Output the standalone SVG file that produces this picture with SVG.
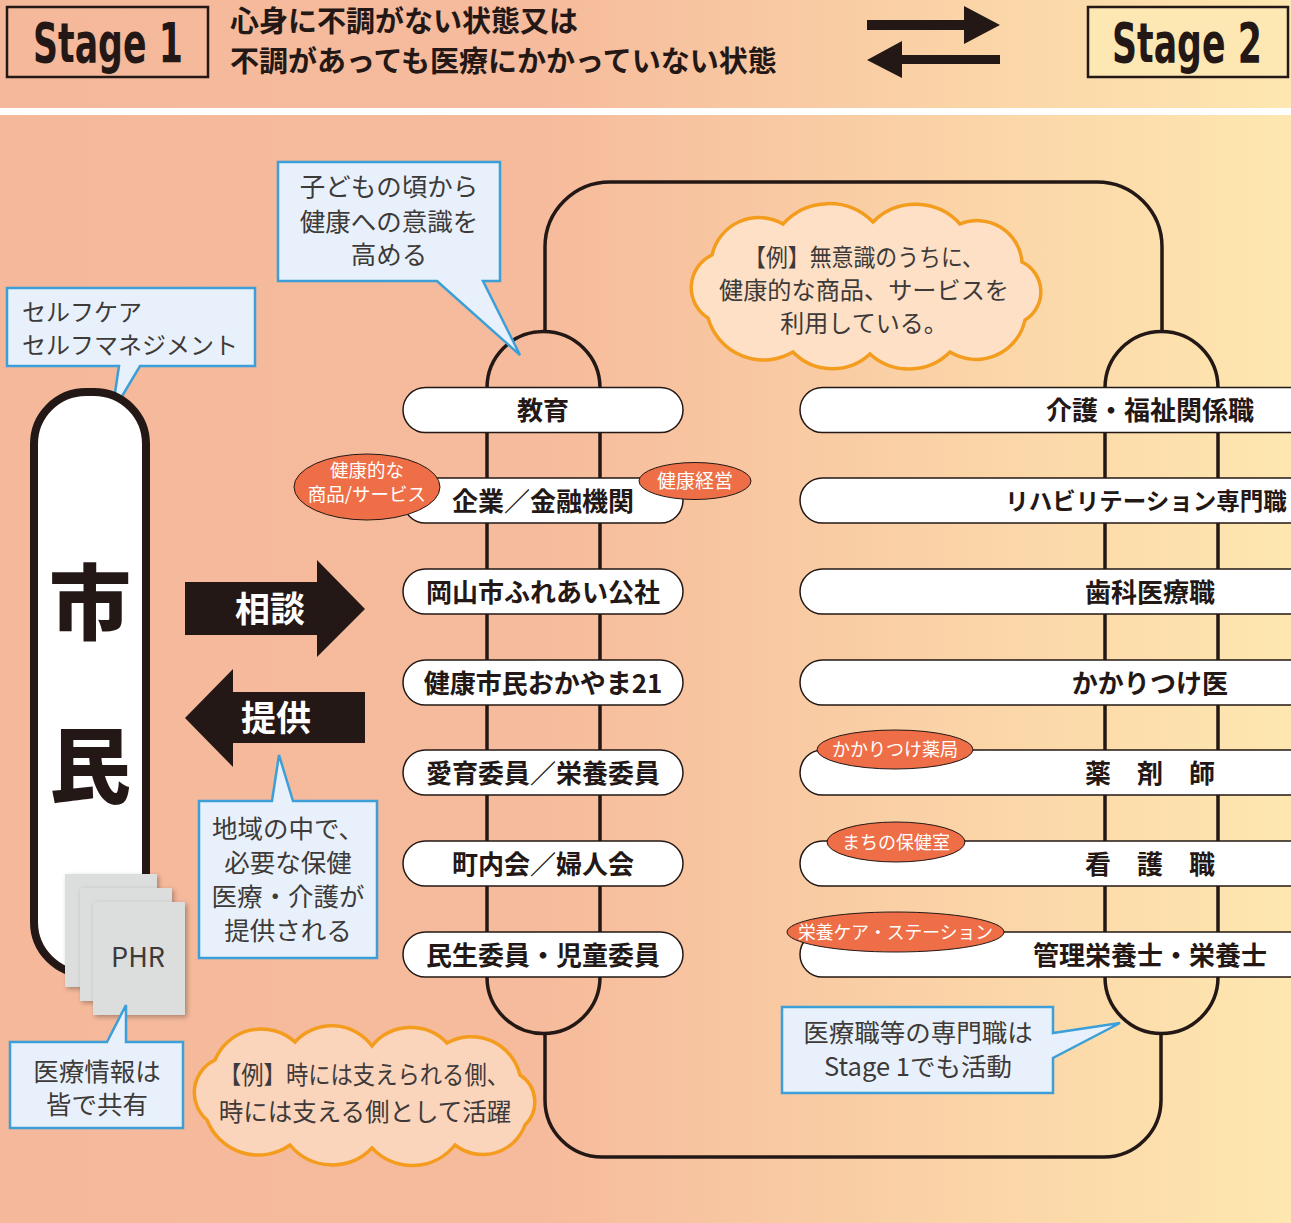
<svg xmlns="http://www.w3.org/2000/svg" width="1291" height="1223" viewBox="0 0 1291 1223">
<defs>
<linearGradient id="bg" x1="0" y1="0" x2="1291" y2="0" gradientUnits="userSpaceOnUse">
<stop offset="0" stop-color="#f5b89b"/>
<stop offset="0.42" stop-color="#f6bb9c"/>
<stop offset="1" stop-color="#fee7b0"/>
</linearGradient>
<filter id="sh" x="-20%" y="-20%" width="150%" height="150%">
<feDropShadow dx="2" dy="2" stdDeviation="2.5" flood-color="#000" flood-opacity="0.3"/>
</filter>
<style>
text{font-family:"Noto Sans CJK JP","Noto Sans",sans-serif}
.bub{fill:#e8f1fb;stroke:#3c9fd8;stroke-width:2.5}
.bt{font-size:25.5px;fill:#3e3a39;text-anchor:middle}
.pill{fill:#fff;stroke:#231815;stroke-width:1.5}
.pt{font-size:26px;font-weight:700;fill:#231815;text-anchor:middle}
.badge{fill:#ee6f47;stroke:#231815;stroke-width:1}
.bdt{font-size:19px;fill:#fff;text-anchor:middle}
.cloud{stroke:#f39c1e;stroke-width:3.5}
.line{fill:none;stroke:#231815;stroke-width:3.5}
.stg{font-family:"DejaVu Sans Condensed","DejaVu Sans",sans-serif;font-weight:700;font-size:56px;fill:#231815}
.blk{fill:#231815}
.phr{fill:#dcdddd}
</style>
</defs>
<rect x="0" y="0" width="1291" height="1223" fill="url(#bg)"/>
<rect x="0" y="108" width="1291" height="7" fill="#ffffff"/>

<g id="header">
<g id="stage1">
<rect x="7" y="7" width="201" height="70" fill="none" stroke="#231815" stroke-width="2.5"/>
<text class="stg" transform="translate(33,62) scale(0.69,1)" x="0" y="0">Stage 1</text>
</g>
<g id="stage1-desc">
<text x="230" y="32" font-size="29" font-weight="700" fill="#231815">心身に不調がない状態又は</text>
<text x="230" y="72" font-size="29" font-weight="700" fill="#231815">不調があっても医療にかかっていない状態</text>
</g>
<g id="stage-arrows">
<polygon class="blk" points="867,20 964,20 964,6 1000,25 964,44 964,30 867,30"/>
<polygon class="blk" points="867,60 902,41 902,55 1000,55 1000,64 902,64 902,78"/>
</g>
<g id="stage2">
<rect x="1088" y="7" width="200" height="70" fill="#fde8b3" stroke="#231815" stroke-width="2.5"/>
<text class="stg" transform="translate(1112,62) scale(0.69,1)" x="0" y="0">Stage 2</text>
</g>
</g>

<g id="connectors">
<path class="line" d="M545,331 V247 A65,65 0 0 1 610,182 H1097 A65,65 0 0 1 1162,247 V331"/>
<path class="line" d="M545,1034 V1100 A57,57 0 0 0 602,1157 H1104 A57,57 0 0 0 1161,1100 V1034"/>
<path class="line" d="M487,977 V388 A56.5,56.5 0 0 1 600,388 V977 A56.5,56.5 0 0 1 487,977"/>
<path class="line" d="M1105,977 V388 A56.5,56.5 0 0 1 1218,388 V977 A56.5,56.5 0 0 1 1105,977"/>
</g>

<g id="cloud-top">
<path class="cloud" fill="#fde0c6" d="M712,255 A48,48 0 0 1 783,224 A62,62 0 0 1 873,222 A60,60 0 0 1 960,224 A45,45 0 0 1 1022,262 A33,33 0 0 1 1025,320 A50,50 0 0 1 950,352 A58,58 0 0 1 870,354 A55,55 0 0 1 793,352 A58,58 0 0 1 708,318 A36,36 0 0 1 712,255 Z"/>
<text class="bt" style="font-size:24px" x="864" y="266" textLength="240" lengthAdjust="spacingAndGlyphs">【例】無意識のうちに、</text>
<text class="bt" style="font-size:24px" x="864" y="299" textLength="290" lengthAdjust="spacingAndGlyphs">健康的な商品、サービスを</text>
<text class="bt" style="font-size:24px" x="864" y="332">利用している。</text>
</g>

<g id="bubble-kodomo">
<path class="bub" d="M278,162 H500 V281 H483 L520,355 L437,281 H278 Z"/>
<text class="bt" x="389" y="196">子どもの頃から</text>
<text class="bt" x="389" y="231">健康への意識を</text>
<text class="bt" x="389" y="264">高める</text>
</g>

<g id="bubble-selfcare">
<path class="bub" d="M7,288 H255 V366 H140 L112,413 L119,366 H7 Z"/>
<text class="bt" style="text-anchor:start;font-size:24px" x="22" y="321">セルフケア</text>
<text class="bt" style="text-anchor:start;font-size:24px" x="22" y="354">セルフマネジメント</text>
</g>

<g id="shimin">
<rect x="34" y="392" width="112" height="582" rx="52" fill="#ffffff" stroke="#231815" stroke-width="8"/>
<text x="90" y="633" font-size="82" font-weight="900" fill="#231815" text-anchor="middle">市</text>
<text x="90" y="796" font-size="82" font-weight="900" fill="#231815" text-anchor="middle">民</text>
</g>

<g id="arrow-soudan">
<polygon class="blk" points="185,582 317,582 317,560 365,609 317,657 317,635 185,635"/>
<text x="270" y="622" font-size="35" font-weight="700" fill="#ffffff" text-anchor="middle">相談</text>
</g>
<g id="arrow-teikyo">
<polygon class="blk" points="185,718 233,669 233,692 365,692 365,743 233,743 233,767"/>
<text x="276" y="731" font-size="35" font-weight="700" fill="#ffffff" text-anchor="middle">提供</text>
</g>

<g id="bubble-chiiki">
<path class="bub" d="M199,801 H272 L279,755 L293,801 H377 V958 H199 Z"/>
<text class="bt" x="288" y="838">地域の中で、</text>
<text class="bt" x="288" y="872">必要な保健</text>
<text class="bt" x="288" y="906">医療・介護が</text>
<text class="bt" x="288" y="940">提供される</text>
</g>

<g id="phr">
<rect class="phr" x="65" y="874" width="92" height="113" filter="url(#sh)"/>
<rect class="phr" x="80" y="888" width="92" height="113" filter="url(#sh)"/>
<rect class="phr" x="93" y="902" width="92" height="113" filter="url(#sh)"/>
<text x="138" y="967" font-family="Noto Sans, sans-serif" font-size="27" fill="#3e3a39" text-anchor="middle">PHR</text>
</g>

<g id="bubble-iryojoho">
<path class="bub" d="M10,1042 H107 L126,1005 V1042 H183 V1128 H10 Z"/>
<text class="bt" x="97" y="1081">医療情報は</text>
<text class="bt" x="97" y="1114">皆で共有</text>
</g>

<g id="cloud-bottom">
<path class="cloud" fill="#fbd4bc" d="M215,1060 A50,50 0 0 1 295,1042 A50,50 0 0 1 372,1046 A50,50 0 0 1 447,1043 A50,50 0 0 1 520,1075 A32,32 0 0 1 525,1125 A45,45 0 0 1 455,1145 A55,55 0 0 1 372,1148 A55,55 0 0 1 290,1145 A55,55 0 0 1 207,1120 A36,36 0 0 1 215,1060 Z"/>
<text class="bt" style="font-size:24.5px" x="364" y="1084" textLength="290" lengthAdjust="spacingAndGlyphs">【例】時には支えられる側、</text>
<text class="bt" style="font-size:24.5px" x="365" y="1121">時には支える側として活躍</text>
</g>

<g id="bubble-senmon">
<path class="bub" d="M782,1007 H1053 V1033 L1120,1023 L1053,1058 V1093 H782 Z"/>
<text class="bt" x="918" y="1042">医療職等の専門職は</text>
<text class="bt" x="918" y="1076">Stage 1でも活動</text>
</g>

<g id="left-pills">
<g id="p-kyoiku"><rect class="pill" x="403" y="387.5" width="280" height="45" rx="22.5"/><text class="pt" x="543" y="420">教育</text></g>
<g id="p-kigyo"><rect class="pill" x="403" y="478" width="280" height="45" rx="22.5"/><text class="pt" x="543" y="510.5">企業／金融機関</text></g>
<g id="p-fureai"><rect class="pill" x="403" y="569" width="280" height="45" rx="22.5"/><text class="pt" x="543" y="601.5">岡山市ふれあい公社</text></g>
<g id="p-kenko21"><rect class="pill" x="403" y="660" width="280" height="45" rx="22.5"/><text class="pt" x="543" y="692.5">健康市民おかやま21</text></g>
<g id="p-aiiku"><rect class="pill" x="403" y="750" width="280" height="45" rx="22.5"/><text class="pt" x="543" y="782.5">愛育委員／栄養委員</text></g>
<g id="p-chonai"><rect class="pill" x="403" y="841" width="280" height="45" rx="22.5"/><text class="pt" x="543" y="873.5">町内会／婦人会</text></g>
<g id="p-minsei"><rect class="pill" x="403" y="932" width="280" height="45" rx="22.5"/><text class="pt" x="543" y="964.5">民生委員・児童委員</text></g>
</g>

<g id="right-pills">
<g id="r-kaigo"><rect class="pill" x="800" y="387.5" width="540" height="45" rx="22.5"/><text class="pt" x="1150" y="420">介護・福祉関係職</text></g>
<g id="r-riha"><rect class="pill" x="800" y="478" width="540" height="45" rx="22.5"/><text class="pt" style="font-size:23.5px" x="1146" y="510">リハビリテーション専門職</text></g>
<g id="r-shika"><rect class="pill" x="800" y="569" width="540" height="45" rx="22.5"/><text class="pt" x="1150" y="601.5">歯科医療職</text></g>
<g id="r-kakari"><rect class="pill" x="800" y="660" width="540" height="45" rx="22.5"/><text class="pt" x="1150" y="692.5">かかりつけ医</text></g>
<g id="r-yakuzai"><rect class="pill" x="800" y="750" width="540" height="45" rx="22.5"/><text class="pt" x="1150" y="782.5">薬　剤　師</text></g>
<g id="r-kango"><rect class="pill" x="800" y="841" width="540" height="45" rx="22.5"/><text class="pt" x="1150" y="873.5">看　護　職</text></g>
<g id="r-eiyo"><rect class="pill" x="800" y="932" width="540" height="45" rx="22.5"/><text class="pt" x="1150" y="964.5">管理栄養士・栄養士</text></g>
</g>

<g id="badges">
<g id="b-shohin"><ellipse class="badge" cx="367" cy="487" rx="73" ry="33"/><text class="bdt" style="font-size:18.5px" x="367" y="477">健康的な</text><text class="bdt" style="font-size:18.5px" x="367" y="501">商品/サービス</text></g>
<g id="b-keiei"><ellipse class="badge" cx="695" cy="481" rx="56" ry="18.5"/><text class="bdt" x="695" y="488">健康経営</text></g>
<g id="b-yakkyoku"><ellipse class="badge" cx="895" cy="749.5" rx="78" ry="19.5"/><text class="bdt" style="font-size:18px" x="895" y="756">かかりつけ薬局</text></g>
<g id="b-hokenshitsu"><ellipse class="badge" cx="896" cy="842" rx="69" ry="20"/><text class="bdt" style="font-size:18px" x="896" y="848.5">まちの保健室</text></g>
<g id="b-eiyocare"><ellipse class="badge" cx="895.5" cy="932" rx="108.5" ry="20"/><text class="bdt" style="font-size:18px" x="895.5" y="938.5" textLength="195" lengthAdjust="spacingAndGlyphs">栄養ケア・ステーション</text></g>
</g>
</svg>
